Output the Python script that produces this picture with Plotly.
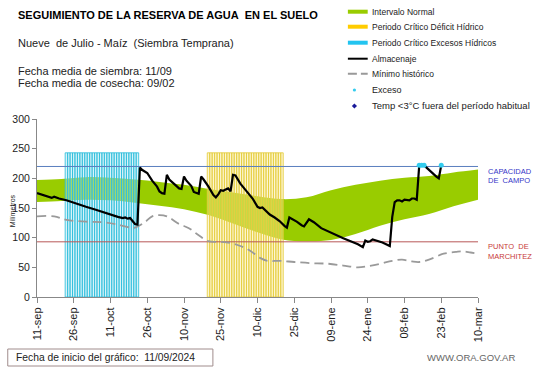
import pandas as pd
import plotly.graph_objects as go

START = "2024-09-11"
N_DAYS = 180

# x-axis tick labels (every 15 days from start)
tick_days = [0, 15, 30, 45, 60, 75, 90, 105, 120, 135, 150, 165, 180]
tick_labels = ["11-sep", "26-sep", "11-oct", "26-oct", "10-nov", "25-nov", "10-dic",
               "25-dic", "09-ene", "24-ene", "08-feb", "23-feb", "10-mar"]

# Intervalo normal (band), day offsets from START
band_days = [0, 10, 20, 30, 40, 50, 60, 70, 80, 90, 100, 110, 120, 130, 140, 150, 160, 170, 180]
band_upper = [197, 199, 202, 201, 198, 194, 189, 182, 176, 170, 165, 168, 180, 189, 196, 201, 204, 210, 215]
band_lower = [160, 162, 164, 163, 159, 154, 148, 138, 124, 109, 97, 94, 96, 106, 120, 131, 140, 153, 164]

# Periodos críticos (daily stripes)
excess_period = (12, 41)
deficit_period = (70, 100)
period_height = 243

# Almacenaje
alm_days = [0, 3, 6, 7, 9, 12, 16, 20, 24, 27, 30, 33, 35, 36, 37, 38, 39, 40, 41, 42, 43, 45, 47,
            49, 50, 51, 52, 53, 54, 55, 57, 58, 59, 60, 61, 63, 64, 65, 66, 67, 68, 70, 72, 73, 74,
            75, 76, 77, 78, 79, 80, 81, 83, 85, 88, 90, 91, 92, 93, 95, 97, 99, 101, 102, 103, 104,
            106, 108, 109, 111, 113, 116, 119, 122, 125, 128, 131, 133, 134, 135, 136, 137, 138, 141,
            144, 145, 146, 147, 148, 149, 150, 151, 152, 153, 154, 155, 156, 157, 158, 159, 161, 163,
            164, 165]
alm_vals = [175, 171, 167, 169, 166, 163, 157, 152, 147, 143, 138, 135, 133, 134, 132, 133, 128, 123,
            122, 218, 214, 209, 196, 186, 178, 175, 174, 206, 198, 194, 187, 183, 182, 203, 196, 187,
            177, 175, 174, 203, 198, 186, 172, 168, 173, 180, 179, 181, 183, 178, 206, 205, 191, 181,
            166, 152, 150, 151, 147, 139, 134, 128, 120, 117, 134, 132, 127, 121, 119, 131, 126, 116,
            110, 104, 99, 94, 89, 84, 95, 93, 94, 97, 96, 92, 86, 135, 160, 163, 163, 161, 164, 164,
            163, 166, 166, 164, 221, 222, 222, 218, 210, 203, 200, 222]

# Mínimo histórico
min_days = [0, 7, 12, 20, 27, 33, 38, 40, 44, 47, 50, 53, 58, 62, 66, 70, 75, 79, 83, 87, 91, 94,
            99, 105, 112, 119, 125, 131, 135, 140, 145, 149, 153, 156, 160, 166, 171, 174, 177, 180]
min_vals = [136, 136, 130, 127, 126, 122, 117, 117, 126, 136, 138, 136, 123, 116, 104, 94, 93, 91,
            86, 78, 66, 61, 61, 59, 57, 56, 53, 50, 52, 56, 61, 63, 60, 59, 63, 73, 76, 77, 75, 73]

# Exceso points
exc_days = [156, 157, 158, 165]
exc_vals = [222, 222, 222, 222]

CAPACIDAD = 220
MARCHITEZ = 93

start = pd.Timestamp(START)


def to_dates(days):
    return [start + pd.Timedelta(days=d) for d in days]


x_end = start + pd.Timedelta(days=N_DAYS)
DAY_MS = 86400000

GREEN = "#99cc00"
FONT = "Liberation Sans, Arial, sans-serif"

fig = go.Figure()

# Normal band (main axes, underneath)
fig.add_trace(go.Scatter(x=to_dates(band_days), y=band_lower, mode="lines",
                         line=dict(width=0, color=GREEN, shape="spline"), showlegend=False,
                         hoverinfo="skip"))
fig.add_trace(go.Scatter(x=to_dates(band_days), y=band_upper, mode="lines", fill="tonexty",
                         fillcolor=GREEN, line=dict(width=0, color=GREEN, shape="spline"),
                         showlegend=False, name="Intervalo Normal"))

# Stripes on overlay axes (above the band)
ex_days = list(range(excess_period[0], excess_period[1] + 1))
fig.add_trace(go.Bar(x=to_dates(ex_days), y=[period_height] * len(ex_days), width=DAY_MS,
                     marker=dict(color="rgba(170,228,242,0.45)",
                                 line=dict(color="rgba(45,190,220,0.95)", width=0.9)),
                     xaxis="x2", yaxis="y2", showlegend=False,
                     name="Periodo Crítico Excesos Hídricos"))
de_days = list(range(deficit_period[0], deficit_period[1] + 1))
fig.add_trace(go.Bar(x=to_dates(de_days), y=[period_height] * len(de_days), width=DAY_MS,
                     marker=dict(color="rgba(250,236,150,0.45)",
                                 line=dict(color="rgba(228,205,60,0.95)", width=0.9)),
                     xaxis="x2", yaxis="y2", showlegend=False,
                     name="Periodo Crítico Déficit Hídrico"))

# Reference lines
fig.add_trace(go.Scatter(x=[start, x_end], y=[CAPACIDAD, CAPACIDAD], mode="lines",
                         line=dict(color="#5a7fbf", width=1), xaxis="x2", yaxis="y2",
                         showlegend=False, hoverinfo="skip"))
fig.add_trace(go.Scatter(x=[start, x_end], y=[MARCHITEZ, MARCHITEZ], mode="lines",
                         line=dict(color="#b85858", width=1), xaxis="x2", yaxis="y2",
                         showlegend=False, hoverinfo="skip"))

# Mínimo histórico
fig.add_trace(go.Scatter(x=to_dates(min_days), y=min_vals, mode="lines",
                         line=dict(color="#9a9a9a", width=1.8, dash="9px,5px", shape="spline"),
                         xaxis="x2", yaxis="y2", showlegend=False, name="Mínimo histórico"))

# Almacenaje
fig.add_trace(go.Scatter(x=to_dates(alm_days), y=alm_vals, mode="lines",
                         line=dict(color="black", width=2.2), xaxis="x2", yaxis="y2",
                         showlegend=False, name="Almacenaje"))

# Exceso
fig.add_trace(go.Scatter(x=to_dates(exc_days), y=exc_vals, mode="markers",
                         marker=dict(color="#33ccee", size=5), xaxis="x2", yaxis="y2",
                         showlegend=False, name="Exceso"))

L, R, T, B = 33, 63, 119, 71
W, H = 541, 368
PW, PH = W - L - R, H - T - B


def px_x(px):
    return (px - L) / PW


def px_y(py):
    return (H - B - py) / PH


tickvals = to_dates(tick_days)
axis_common = dict(showgrid=False, zeroline=False)
fig.update_layout(
    width=W, height=H, autosize=False,
    margin=dict(l=L, r=R, t=T, b=B, pad=0),
    paper_bgcolor="white", plot_bgcolor="white",
    font=dict(family=FONT, color="#222"),
    barmode="overlay",
    showlegend=False,
    xaxis=dict(type="date", range=[start, x_end], tickvals=tickvals, ticktext=tick_labels,
               tickangle=-90, ticks="outside", ticklen=5, tickcolor="#888", showline=True,
               linecolor="#888", linewidth=1, tickfont=dict(size=11, color="#222"), **axis_common),
    yaxis=dict(range=[0, 300], dtick=50, ticks="outside", ticklen=4, tickcolor="#888",
               showline=True, linecolor="#888", linewidth=1, tickfont=dict(size=10.5, color="#222"),
               **axis_common),
    xaxis2=dict(type="date", range=[start, x_end], overlaying="x", visible=False, **axis_common),
    yaxis2=dict(range=[0, 300], overlaying="y", visible=False, **axis_common),
)

ann = []
shapes = []

def text(px, py, s, size, color="#111", bold=False, xanchor="left", **kw):
    if bold:
        s = "<b>" + s + "</b>"
    ann.append(dict(x=px_x(px), y=px_y(py), xref="paper", yref="paper", text=s, showarrow=False,
                    xanchor=xanchor, yanchor="middle", font=dict(size=size, color=color, family=FONT),
                    **kw))

# Titles
text(12, 15, "SEGUIMIENTO DE LA RESERVA DE AGUA&nbsp; EN EL SUELO", 11, "#000", bold=True)
text(12, 43.5, "Nueve&nbsp; de Julio - Maíz&nbsp; (Siembra Temprana)", 11, "#222")
text(12, 71, "Fecha media de siembra: 11/09", 11, "#222")
text(12, 82.5, "Fecha media de cosecha: 09/02", 11, "#222")

# Y-axis title
text(8, 211, "Milímetros", 7, "#222", xanchor="center", textangle=-90)

# Right labels
text(486.5, 171, "CAPACIDAD", 7.5, "#3535c8")
text(486.5, 180, "DE&nbsp; CAMPO", 7.5, "#3535c8")
text(486.5, 246.5, "PUNTO&nbsp; DE", 7.5, "#c83a3a")
text(486.5, 256, "MARCHITEZ", 7.5, "#c83a3a")

# Manual legend
leg_rows = [11.7, 26.7, 42.7, 58.7, 73.7, 90, 106]
leg_names = ["Intervalo Normal", "Periodo Crítico Déficit Hídrico",
             "Periodo Crítico Excesos Hídricos", "Almacenaje", "Mínimo histórico",
             "Exceso", "Temp &lt;3°C fuera del período habitual"]
leg_sizes = [8.5, 8.5, 8.5, 8.5, 8.5, 9, 9.5]
sx0, sx1, tx = 346.7, 366.7, 369
for yy, nm, sz in zip(leg_rows, leg_names, leg_sizes):
    text(tx, yy, nm, sz, "#222")

leg_lines = [(GREEN, 4, "solid"), ("#ffcc00", 4, "solid"), ("#22c4f0", 4, "solid"),
             ("black", 2, "solid"), ("#999999", 2, "9px,4px")]
for (col, wd, ds), yy in zip(leg_lines, leg_rows[:5]):
    shapes.append(dict(type="line", xref="paper", yref="paper", x0=px_x(sx0), x1=px_x(sx1),
                       y0=px_y(yy), y1=px_y(yy), line=dict(color=col, width=wd, dash=ds)))
cx = 353.3
shapes.append(dict(type="circle", xref="paper", yref="paper", x0=px_x(cx - 1.6), x1=px_x(cx + 1.6),
                   y0=px_y(leg_rows[5] - 1.6), y1=px_y(leg_rows[5] + 1.6),
                   fillcolor="#33ccee", line=dict(width=0)))
dy = leg_rows[6]
shapes.append(dict(type="path", xref="paper", yref="paper",
                   path=(f"M {px_x(cx - 2.6)} {px_y(dy)} L {px_x(cx)} {px_y(dy - 2.6)} "
                         f"L {px_x(cx + 2.6)} {px_y(dy)} L {px_x(cx)} {px_y(dy + 2.6)} Z"),
                   fillcolor="#1a1a9a", line=dict(width=0)))

# Bottom info box
shapes.append(dict(type="rect", xref="paper", yref="paper", x0=px_x(3.5), x1=px_x(210.5),
                   y0=px_y(349), y1=px_y(366), line=dict(color="#a08c8c", width=1),
                   fillcolor="rgba(0,0,0,0)"))
text(9.7, 357.5, "Fecha de inicio del gráfico:&nbsp; 11/09/2024", 10.3, "#222")
text(425, 357.5, "WWW.ORA.GOV.AR", 9.5, "#666")

fig.update_layout(annotations=ann, shapes=shapes)
fig.write_html("out.html", config={"displayModeBar": False},
               post_script="document.body.style.margin='0';document.body.style.overflow='hidden';")
